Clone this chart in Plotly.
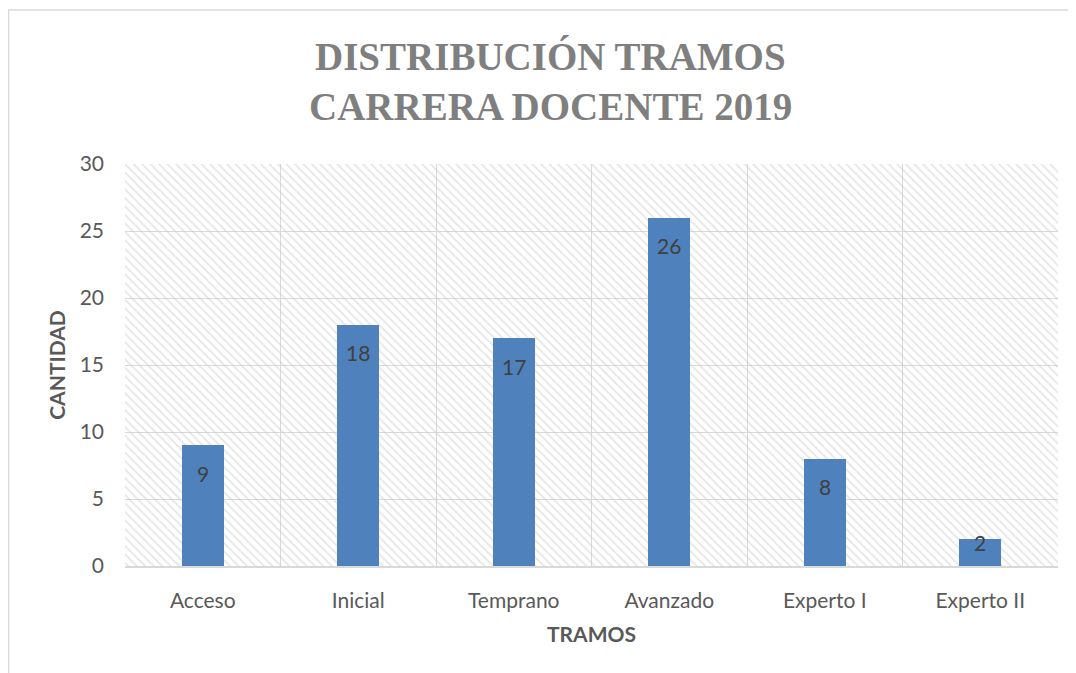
import plotly.graph_objects as go

categories = ["Acceso", "Inicial", "Temprano", "Avanzado", "Experto I", "Experto II"]
values = [9, 18, 17, 26, 8, 2]
y_max = 30
y_ticks = [0, 5, 10, 15, 20, 25, 30]

title_lines = ["DISTRIBUCIÓN TRAMOS", "CARRERA DOCENTE 2019"]
x_title = "TRAMOS"
y_title = "CANTIDAD"

# the page has an 8px body margin, so the figure is sized to fit inside it
W, H = 1068, 665
L, R, T, B = 117, 18, 156, 107
plot_w = W - L - R
plot_h = H - T - B

def px_x(p):
    return (p - L) / plot_w

def px_y(p):
    return (H - B - p) / plot_h

BLUE = "#4F81BD"
GRID = "#d9d9d9"
TXT = "#595959"
FONT = "Lato, 'Open Sans', sans-serif"

fig = go.Figure()

# hatched plot-area background (one full-width bar per category)
fig.add_trace(go.Bar(
    x=categories, y=[y_max] * len(categories), width=1.0,
    marker=dict(color="rgba(0,0,0,0)", line=dict(width=0),
                pattern=dict(shape="\\", fgcolor="#cccccc", size=6, solidity=0.3)),
    hoverinfo="skip", showlegend=False,
))

fig.add_trace(go.Bar(
    x=categories, y=values, width=0.27,
    marker=dict(color=BLUE, line=dict(width=0)),
    showlegend=False,
))

px_per_unit = plot_h / y_max
for c, v in zip(categories, values):
    big = v * px_per_unit > 60
    fig.add_annotation(
        x=c, y=v, xref="x", yref="y", text=str(v), showarrow=False,
        yanchor="middle", yshift=-28 if big else -3,
        font=dict(family=FONT, size=21, color="#404040"),
    )

# title lines
for i, line in enumerate(title_lines):
    fig.add_annotation(
        x=px_x(542), y=px_y(49 + 49 * i), xref="paper", yref="paper",
        text=f"<b>{line}</b>", showarrow=False, xanchor="center", yanchor="middle",
        font=dict(family="'Liberation Serif', serif", size=39, color="#7f7f7f"),
    )

# outer chart frame
fig.add_shape(type="rect", xref="paper", yref="paper",
              x0=px_x(0.5), x1=px_x(1100), y0=px_y(720), y1=px_y(2),
              line=dict(color=GRID, width=1.5), fillcolor="rgba(0,0,0,0)", layer="below")

fig.update_layout(
    width=W, height=H,
    margin=dict(l=L, r=R, t=T, b=B, pad=0),
    paper_bgcolor="white", plot_bgcolor="white",
    barmode="overlay", bargap=0,
    font=dict(family=FONT, color=TXT),
)
fig.update_xaxes(
    type="category", tickson="boundaries", showgrid=True, gridcolor=GRID, gridwidth=1.3,
    showline=True, linecolor=GRID, linewidth=1.5, ticks="",
    tickfont=dict(size=21, color=TXT), ticklabelstandoff=15,
    title=dict(text=f"<b>{x_title}</b>", font=dict(size=21, color=TXT), standoff=16),
    range=[-0.5, len(categories) - 0.5], fixedrange=True,
)
fig.update_yaxes(
    range=[0, y_max], tickvals=y_ticks, showgrid=True, gridcolor=GRID, gridwidth=1.3,
    zeroline=False, showline=False, ticks="",
    tickfont=dict(size=21, color=TXT), ticklabelstandoff=20,
    title=dict(text=f"<b>{y_title}</b>", font=dict(size=21, color=TXT), standoff=8),
    fixedrange=True,
)

fig.write_html("out.html")
